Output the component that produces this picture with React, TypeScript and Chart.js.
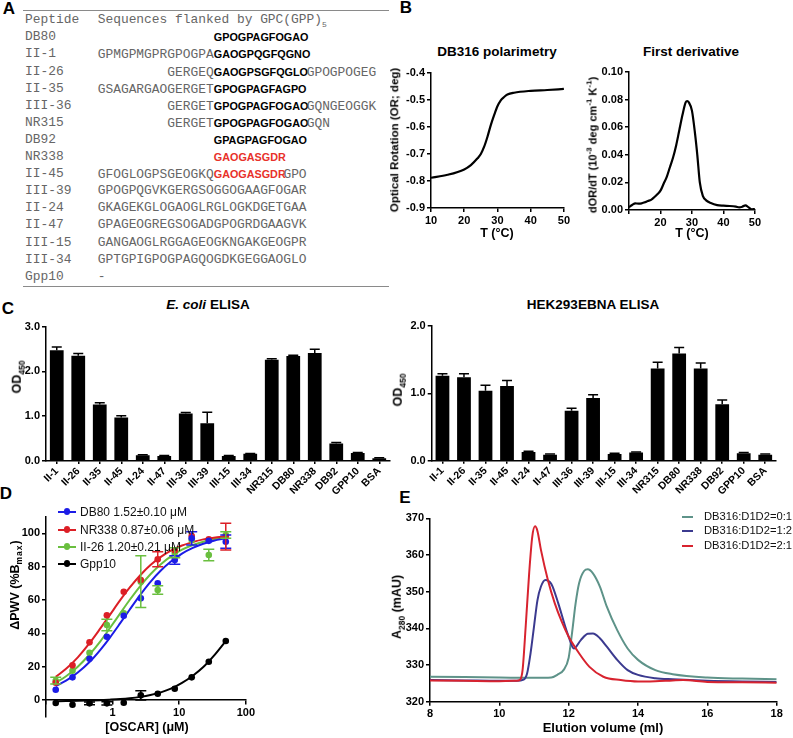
import React, { useEffect, useRef } from 'react';
import { Chart, registerables } from 'chart.js';
Chart.register(...registerables);

const SANS = '"Liberation Sans", Arial, Helvetica, sans-serif';
const MONO = '"Liberation Mono", "Courier New", monospace';

// ---------- Panel A (table) ----------
const peptideNames = ['DB80', 'II-1', 'II-26', 'II-35', 'III-36', 'NR315', 'DB92', 'NR338', 'II-45', 'III-39', 'II-24', 'II-47', 'III-15', 'III-34', 'Gpp10'];
const seqPrefix = ['', 'GPMGPMGPRGPOGPA', 'GERGEQ', 'GSAGARGAOGERGET', 'GERGET', 'GERGET', '', '', 'GFOGLOGPSGEOGKQ', 'GPOGPQGVKGERGSOGGOGAAGFOGAR', 'GKAGEKGLOGAOGLRGLOGKDGETGAA', 'GPAGEOGREGSOGADGPOGRDGAAGVK', 'GANGAOGLRGGAGEOGKNGAKGEOGPR', 'GPTGPIGPOGPAGQOGDKGEGGAOGLO', '-'];
const seqCore = ['GPOGPAGFOGAO', 'GAOGPQGFQGNO', 'GAOGPSGFQGLO', 'GPOGPAGFAGPO', 'GPOGPAGFOGAO', 'GPOGPAGFOGAO', 'GPAGPAGFOGAO', 'GAOGASGDR', 'GAOGASGDR', '', '', '', '', '', ''];
const seqSuffix = ['', '', 'GPOGPOGEG', '', 'GQNGEOGGK', 'GQN', '', '', 'GPO', '', '', '', '', '', ''];
const coreRed = [false, false, false, false, false, false, false, true, true, false, false, false, false, false, false];

// ---------- Panel B ----------
const polT = [10, 15, 20, 22, 24, 25, 26, 27, 28, 29, 30, 31, 32, 33, 35, 40, 45, 50];
const polOR = [-0.788, -0.777, -0.757, -0.741, -0.716, -0.7, -0.673, -0.636, -0.593, -0.556, -0.523, -0.501, -0.489, -0.48, -0.473, -0.466, -0.463, -0.459];
const derT = [10, 11, 12, 13, 14, 15, 16, 17, 18, 19, 20, 21, 22, 23, 24, 25, 26, 27, 28, 28.5, 29, 30, 31, 31.7, 32.5, 33.5, 34.5, 36, 38, 40, 42, 44, 45, 46, 47, 48, 49, 50];
const derV = [0.002, 0.0036, 0.0048, 0.0046, 0.0048, 0.0056, 0.0065, 0.0073, 0.0092, 0.0114, 0.014, 0.019, 0.024, 0.031, 0.038, 0.047, 0.058, 0.069, 0.078, 0.079, 0.078, 0.072, 0.055, 0.04, 0.02, 0.01, 0.007, 0.005, 0.0035, 0.0031, 0.0029, 0.0024, 0.0019, 0.0024, 0.0034, 0.0019, 0.0005, 0.0007];

// ---------- Panel C ----------
const elisaLabels = ['II-1', 'II-26', 'II-35', 'II-45', 'II-24', 'II-47', 'III-36', 'III-39', 'III-15', 'III-34', 'NR315', 'DB80', 'NR338', 'DB92', 'GPP10', 'BSA'];
const ecoliOD = [2.47, 2.35, 1.26, 0.97, 0.13, 0.11, 1.06, 0.84, 0.11, 0.16, 2.26, 2.34, 2.41, 0.39, 0.18, 0.06];
const ecoliErr = [0.07, 0.05, 0.04, 0.04, 0.01, 0.01, 0.02, 0.25, 0.01, 0.01, 0.02, 0.02, 0.08, 0.02, 0.01, 0.01];
const hekOD = [1.26, 1.24, 1.04, 1.11, 0.13, 0.09, 0.74, 0.93, 0.1, 0.12, 1.37, 1.59, 1.37, 0.84, 0.11, 0.09];
const hekErr = [0.03, 0.05, 0.08, 0.08, 0.01, 0.01, 0.04, 0.05, 0.01, 0.01, 0.09, 0.09, 0.08, 0.06, 0.01, 0.01];

// ---------- Panel D ----------
const oscarConc = [0.14, 0.25, 0.45, 0.82, 1.47, 2.65, 4.76, 8.57, 15.4, 27.8, 50];
const db80Pwv = [6.2, 13.6, 24.8, 38, 50.6, 61, 70, 84, 97, 95.5, 95];
const db80Err = [0, 0, 0, 0, 0, 0, 0, 2.5, 4, 0, 4];
const nr338Pwv = [10.4, 20.8, 34.6, 50.8, 65, 72, 84.4, 89.8, 98.4, 96.4, 98];
const nr338Err = [0, 0, 0, 0, 0, 0, 4.5, 0, 0, 0, 8];
const ii26Pwv = [11.6, 17.6, 28.4, 45, 52, 71, 66, 88.4, 96, 87, 99];
const ii26Err = [2, 0, 0, 3.5, 0, 15.5, 2.5, 3, 0, 3.5, 2];
const gpp10Pwv = [-1.8, -2.8, -2, -2, -1.6, 2.8, 3.8, 6.8, 13.6, 23, 35.4];
const gpp10Err = [0, 0, 0.8, 1, 0, 2.8, 0, 0, 0, 0, 0];
const fitConc = [0.14, 0.2, 0.3, 0.45, 0.65, 0.9, 1.3, 1.8, 2.6, 3.7, 5.3, 7.5, 11, 16, 23, 33, 50];
const db80Fit = [8.4, 11.6, 16.5, 22.8, 30.0, 37.2, 46.1, 54.2, 63.1, 70.9, 77.7, 83.1, 87.9, 91.3, 93.8, 95.6, 97.0];
const nr338Fit = [13.9, 18.7, 25.6, 34.1, 42.8, 50.8, 59.9, 67.4, 74.9, 81.0, 85.9, 89.6, 92.7, 94.8, 96.4, 97.4, 98.3];
const ii26Fit = [10.4, 14.3, 20.0, 27.3, 35.1, 42.9, 52.0, 60.0, 68.4, 75.5, 81.5, 86.2, 90.2, 93.0, 95.0, 96.5, 97.7];
const gpp10Fit = [-0.7, -0.6, -0.5, -0.3, -0.1, 0.2, 0.6, 1.1, 1.9, 3.0, 4.6, 6.8, 10.3, 14.6, 19.8, 26.5, 35.4];

// ---------- Panel E ----------
const e01X = [8, 9, 10, 11, 11.5, 11.7, 11.85, 12.0, 12.1, 12.2, 12.3, 12.45, 12.55, 12.7, 12.9, 13.1, 13.4, 13.7, 14, 14.5, 15, 16, 17, 18];
const e01Y = [326.8, 326.7, 326.6, 326.5, 326.6, 327.5, 328.6, 332, 339, 346.8, 352.3, 355.7, 356.1, 355, 351.4, 345.9, 339.5, 334.5, 331.4, 328.6, 327.5, 326.6, 326.3, 326.1];
const e12X = [8, 9, 10, 10.5, 10.7, 10.8, 10.9, 11.0, 11.1, 11.2, 11.33, 11.5, 11.7, 11.9, 12.0, 12.15, 12.35, 12.55, 12.7, 12.9, 13.1, 13.4, 13.7, 14, 14.5, 15, 16, 17, 18];
const e12Y = [325.9, 325.8, 325.7, 325.7, 326, 327.7, 333.2, 340.5, 347.7, 351.4, 353.2, 352.1, 346.8, 340.5, 337.7, 334.5, 336.8, 338.5, 338.6, 337.3, 335, 331.4, 328.6, 327.3, 326.4, 326.1, 325.7, 325.5, 325.4];
const e21X = [8, 9, 10, 10.5, 10.6, 10.67, 10.76, 10.86, 10.95, 11.03, 11.1, 11.2, 11.4, 11.6, 11.8, 12.0, 12.3, 12.6, 13.0, 13.5, 14, 14.5, 15, 15.3, 16, 17, 18];
const e21Y = [325.8, 325.7, 325.6, 325.7, 326, 328.6, 340.5, 355, 365, 367.8, 366.5, 361.4, 353.2, 346.8, 341.8, 337.7, 333.2, 329.5, 326.8, 325.9, 325.5, 325.6, 325.8, 325.9, 325.4, 325.3, 325.2];

// ---------- helpers ----------
const tickFont = { family: SANS, size: 11, weight: 'bold' as const };
const gridOpt = { drawOnChartArea: false, drawTicks: true, tickLength: 4, color: '#000', lineWidth: 1.5 };
const borderOpt = { display: true, color: '#000', width: 1.5 };

const errorBarPlugin = {
  id: 'errorBars',
  afterDatasetsDraw(chart: any) {
    const ctx = chart.ctx;
    const ys = chart.scales.y;
    chart.data.datasets.forEach((ds: any, di: number) => {
      if (!ds.errors) return;
      const meta = chart.getDatasetMeta(di);
      ctx.save();
      ctx.strokeStyle = ds.errColor || ds.borderColor || '#000';
      ctx.lineWidth = 1.5;
      meta.data.forEach((el: any, i: number) => {
        const e = ds.errors[i];
        if (!e) return;
        const raw = ds.data[i];
        const v = typeof raw === 'number' ? raw : raw.y;
        const x = el.x;
        const yc = ys.getPixelForValue(v);
        const yt = ys.getPixelForValue(v + e);
        const yb = ds.errUpOnly ? yc : ys.getPixelForValue(v - e);
        const h = ds.capHalf || 5;
        ctx.beginPath();
        ctx.moveTo(x, yb); ctx.lineTo(x, yt);
        ctx.moveTo(x - h, yt); ctx.lineTo(x + h, yt);
        if (!ds.errUpOnly) { ctx.moveTo(x - h, yb); ctx.lineTo(x + h, yb); }
        ctx.stroke();
      });
      ctx.restore();
    });
  },
};

const baseOpts = (pad: any) => ({
  responsive: false,
  animation: false as const,
  devicePixelRatio: 1,
  events: [] as any[],
  layout: { padding: pad },
  plugins: { legend: { display: false }, tooltip: { enabled: false }, title: { display: false } },
});

function Label(props: any) {
  const { x, y, size = 12, bold = true, rot = false, left = false, color = '#000', italic = false, family = SANS, children } = props;
  const tr = (left ? 'translate(0,-50%)' : 'translate(-50%,-50%)') + (rot ? ' rotate(-90deg)' : '');
  return (
    <div style={{ position: 'absolute', left: x, top: y, transform: tr, fontSize: size, fontWeight: bold ? 'bold' : 'normal', fontFamily: family, color, whiteSpace: 'nowrap', lineHeight: 1, fontStyle: italic ? 'italic' : 'normal' }}>
      {children}
    </div>
  );
}

function LegendItem(props: any) {
  const { x0, x1, xt, y, color, text, dot, size = 12 } = props;
  return (
    <>
      <div style={{ position: 'absolute', left: x0, top: y - 1, width: x1 - x0, height: 2, background: color }} />
      {dot ? <div style={{ position: 'absolute', left: (x0 + x1) / 2 - 3.3, top: y - 3.3, width: 6.6, height: 6.6, borderRadius: '50%', background: color }} /> : null}
      <Label x={xt} y={y} left size={size} bold={false} color="#111">{text}</Label>
    </>
  );
}

export default function App() {
  const bLRef = useRef<HTMLCanvasElement>(null);
  const bRRef = useRef<HTMLCanvasElement>(null);
  const cLRef = useRef<HTMLCanvasElement>(null);
  const cRRef = useRef<HTMLCanvasElement>(null);
  const dRef = useRef<HTMLCanvasElement>(null);
  const eRef = useRef<HTMLCanvasElement>(null);

  useEffect(() => {
    const charts: Chart[] = [];

    // B left
    charts.push(new Chart(bLRef.current as HTMLCanvasElement, {
      type: 'line',
      data: { datasets: [{ data: polT.map((t, i) => ({ x: t, y: polOR[i] })), borderColor: '#000', borderWidth: 2.2, pointRadius: 0, cubicInterpolationMode: 'monotone', fill: false } as any] },
      options: {
        ...baseOpts({ top: 13, right: 8, left: 0, bottom: 0 }),
        scales: {
          x: { type: 'linear', min: 10, max: 50, ticks: { stepSize: 10, color: '#000', font: tickFont, padding: 2 }, grid: gridOpt, border: borderOpt, afterFit: (s: any) => { s.height = 22; } },
          y: { type: 'linear', min: -0.9, max: -0.4, ticks: { stepSize: 0.1, color: '#000', font: tickFont, padding: 2, callback: (v: any) => Number(v).toFixed(1) }, grid: gridOpt, border: borderOpt, afterFit: (s: any) => { s.width = 31; } },
        },
      } as any,
    }));

    // B right
    charts.push(new Chart(bRRef.current as HTMLCanvasElement, {
      type: 'line',
      data: { datasets: [{ data: derT.map((t, i) => ({ x: t, y: derV[i] })), borderColor: '#000', borderWidth: 2.2, pointRadius: 0, cubicInterpolationMode: 'monotone', fill: false } as any] },
      options: {
        ...baseOpts({ top: 12, right: 8, left: 0, bottom: 0 }),
        scales: {
          x: { type: 'linear', min: 10, max: 50, ticks: { stepSize: 10, color: '#000', font: tickFont, padding: 2, callback: (v: any) => (Number(v) === 10 ? '' : String(v)) }, grid: gridOpt, border: borderOpt, afterFit: (s: any) => { s.height = 20; } },
          y: { type: 'linear', min: 0, max: 0.1, ticks: { stepSize: 0.02, color: '#000', font: tickFont, padding: 2, callback: (v: any) => Number(v).toFixed(2) }, grid: gridOpt, border: borderOpt, afterFit: (s: any) => { s.width = 33; } },
        },
      } as any,
    }));

    const barChart = (canvas: HTMLCanvasElement, vals: number[], errs: number[], ymax: number, yW: number, xH: number, padTop: number) =>
      new Chart(canvas, {
        type: 'bar',
        data: {
          labels: elisaLabels,
          datasets: [{ data: vals, errors: errs, errUpOnly: true, capHalf: 5, errColor: '#000', backgroundColor: '#000', borderWidth: 0, barPercentage: 0.64, categoryPercentage: 1.0 } as any],
        },
        options: {
          ...baseOpts({ top: padTop, right: 6, left: 0, bottom: 0 }),
          scales: {
            x: { type: 'category', offset: true, ticks: { color: '#000', font: { family: SANS, size: 10.5, weight: 'bold' }, minRotation: 45, maxRotation: 45, autoSkip: false, padding: 1 }, grid: { ...gridOpt, offset: false, tickLength: 3 }, border: borderOpt, afterFit: (s: any) => { s.height = xH; } },
            y: { type: 'linear', min: 0, max: ymax, ticks: { stepSize: 1, color: '#000', font: tickFont, padding: 2, callback: (v: any) => Number(v).toFixed(1) }, grid: gridOpt, border: borderOpt, afterFit: (s: any) => { s.width = yW; } },
          },
        } as any,
        plugins: [errorBarPlugin],
      });

    charts.push(barChart(cLRef.current as HTMLCanvasElement, ecoliOD, ecoliErr, 3, 26, 44, 11.5));
    charts.push(barChart(cRRef.current as HTMLCanvasElement, hekOD, hekErr, 2, 26.7, 44.3, 11));

    // D
    const ptDs = (vals: number[], errs: number[], color: string) => ({
      data: oscarConc.map((c, i) => ({ x: c, y: vals[i] })), errors: errs, capHalf: 5.5,
      backgroundColor: color, borderColor: color, pointRadius: 3.3, pointBorderWidth: 0, showLine: false,
    });
    const fitDs = (vals: number[], color: string) => ({
      data: fitConc.map((c, i) => ({ x: c, y: vals[i] })), borderColor: color, backgroundColor: color,
      borderWidth: 2, pointRadius: 0, showLine: true, cubicInterpolationMode: 'monotone', fill: false,
    });
    charts.push(new Chart(dRef.current as HTMLCanvasElement, {
      type: 'scatter',
      data: {
        datasets: [
          ptDs(db80Pwv, db80Err, '#1c1ce6'),
          ptDs(nr338Pwv, nr338Err, '#dc1f26'),
          ptDs(ii26Pwv, ii26Err, '#6abf3f'),
          ptDs(gpp10Pwv, gpp10Err, '#000000'),
          fitDs(db80Fit, '#1c1ce6'),
          fitDs(nr338Fit, '#dc1f26'),
          fitDs(ii26Fit, '#6abf3f'),
          fitDs(gpp10Fit, '#000000'),
        ] as any,
      },
      options: {
        ...baseOpts({ top: 11.7, right: 10.3, left: 0, bottom: 21.3 }),
        scales: {
          x: {
            type: 'logarithmic', min: 0.1, max: 100, position: { y: 0 },
            afterBuildTicks: (s: any) => { s.ticks = [0.1, 1, 10, 100].map((v) => ({ value: v })); },
            ticks: { color: '#000', font: tickFont, padding: 2, autoSkip: false, maxRotation: 0, callback: (v: any) => (Number(v) < 0.5 ? '' : String(Number(v))) },
            grid: gridOpt, border: borderOpt,
          },
          y: {
            type: 'linear', min: -10, max: 110,
            afterBuildTicks: (s: any) => { s.ticks = [0, 20, 40, 60, 80, 100].map((v) => ({ value: v })); },
            ticks: { color: '#000', font: tickFont, padding: 2 },
            grid: gridOpt, border: borderOpt, afterFit: (s: any) => { s.width = 26; },
          },
        },
      } as any,
      plugins: [errorBarPlugin],
    }));

    // E
    const eDs = (xs: number[], ys: number[], color: string) => ({
      data: xs.map((x, i) => ({ x, y: ys[i] })), borderColor: color, borderWidth: 2, pointRadius: 0,
      cubicInterpolationMode: 'monotone', fill: false,
    });
    charts.push(new Chart(eRef.current as HTMLCanvasElement, {
      type: 'line',
      data: { datasets: [eDs(e21X, e21Y, '#d8232f'), eDs(e12X, e12Y, '#3b3a8f'), eDs(e01X, e01Y, '#5e9389')] as any },
      options: {
        ...baseOpts({ top: 13.3, right: 8.3, left: 0, bottom: 0 }),
        scales: {
          x: { type: 'linear', min: 8, max: 18, ticks: { stepSize: 2, color: '#000', font: tickFont, padding: 2 }, grid: gridOpt, border: borderOpt, afterFit: (s: any) => { s.height = 23.3; } },
          y: { type: 'linear', min: 320, max: 370, ticks: { stepSize: 10, color: '#000', font: tickFont, padding: 2 }, grid: gridOpt, border: borderOpt, afterFit: (s: any) => { s.width = 27; } },
        },
      } as any,
    }));

    return () => charts.forEach((c) => c.destroy());
  }, []);

  const cv = (ref: any, left: number, top: number, w: number, h: number) => (
    <canvas ref={ref} width={w} height={h} style={{ position: 'absolute', left, top, width: w, height: h }} />
  );

  const grayTxt = '#666';
  const charW = 7.74;

  return (
    <div style={{ position: 'absolute', left: 0, top: 0, width: 793, height: 738, background: '#fff', overflow: 'hidden', fontFamily: SANS }}>
      {/* Panel letters */}
      <Label x={9} y={8} size={17}>A</Label>
      <Label x={406} y={7} size={17}>B</Label>
      <Label x={8} y={308} size={17}>C</Label>
      <Label x={6} y={493} size={17}>D</Label>
      <Label x={405} y={497} size={17}>E</Label>

      {/* Panel A table */}
      <div style={{ position: 'absolute', left: 23, top: 10, width: 366, height: 1, background: '#8a8a8a' }} />
      <div style={{ position: 'absolute', left: 23, top: 286, width: 366, height: 1, background: '#8a8a8a' }} />
      <div style={{ position: 'absolute', left: 25, top: 12, fontFamily: MONO, fontSize: 12.9, color: grayTxt, lineHeight: '16px', whiteSpace: 'pre' }}>Peptide</div>
      <div style={{ position: 'absolute', left: 97.7, top: 12, fontFamily: MONO, fontSize: 12.9, color: grayTxt, lineHeight: '16px', whiteSpace: 'pre' }}>
        Sequences flanked by GPC(GPP)<sub style={{ fontSize: 8, verticalAlign: 'sub', lineHeight: 0 }}>5</sub>
      </div>
      {peptideNames.map((n, i) => {
        const yc = 37.3 + i * 17.1;
        const indent = seqCore[i] ? 15 - seqPrefix[i].length : 0;
        return (
          <React.Fragment key={n}>
            <div style={{ position: 'absolute', left: 25, top: yc - 8, fontFamily: MONO, fontSize: 12.9, color: grayTxt, lineHeight: '16px', whiteSpace: 'pre' }}>{n}</div>
            <div style={{ position: 'absolute', left: 97.7 + indent * charW, top: yc - 8, fontFamily: MONO, fontSize: 12.9, color: grayTxt, lineHeight: '16px', whiteSpace: 'pre' }}>
              {seqPrefix[i]}
              {seqCore[i] ? (
                <span style={{ display: 'inline-block', width: seqCore[i].length * charW, fontFamily: SANS, fontWeight: 'bold', fontSize: 10.8, color: coreRed[i] ? '#e8312a' : '#000' }}>{seqCore[i]}</span>
              ) : null}
              {seqSuffix[i]}
            </div>
          </React.Fragment>
        );
      })}

      {/* Panel B */}
      {cv(bLRef, 400, 60, 172, 170)}
      {cv(bRRef, 596, 60, 167, 170)}
      <Label x={497} y={52} size={13.5}>DB316 polarimetry</Label>
      <Label x={691} y={52} size={13.5}>First derivative</Label>
      <Label x={395} y={140} size={11.5} rot>Optical Rotation (OR; deg)</Label>
      <Label x={593} y={145} size={11} rot>dOR/dT (10<sup style={{ fontSize: 8, lineHeight: 0 }}>-3</sup> deg cm<sup style={{ fontSize: 8, lineHeight: 0 }}>-1</sup> K<sup style={{ fontSize: 8, lineHeight: 0 }}>-1</sup>)</Label>
      <Label x={497} y={233} size={12.5}>T (°C)</Label>
      <Label x={692} y={233} size={12.5}>T (°C)</Label>

      {/* Panel C */}
      {cv(cLRef, 20, 315, 376, 190)}
      {cv(cRRef, 405, 315, 377, 190)}
      <Label x={208} y={305} size={13.5}><i>E. coli</i> ELISA</Label>
      <Label x={593} y={305} size={13.5}>HEK293EBNA ELISA</Label>
      <Label x={17} y={377} size={12.5} rot>OD<sub style={{ fontSize: 8.5, lineHeight: 0 }}>450</sub></Label>
      <Label x={398} y={390} size={12.5} rot>OD<sub style={{ fontSize: 8.5, lineHeight: 0 }}>450</sub></Label>

      {/* Panel D */}
      {cv(dRef, 20, 505, 237, 233)}
      <Label x={15} y={585} size={12.5} rot>ΔPWV (%B<sub style={{ fontSize: 8.5, lineHeight: 0, letterSpacing: 1 }}>max</sub>)</Label>
      <Label x={147} y={727} size={12.5}>[OSCAR] (μM)</Label>
      <LegendItem x0={58} x1={76} xt={80} y={511.7} color="#1c1ce6" dot text="DB80 1.52±0.10 μM" />
      <LegendItem x0={58} x1={76} xt={80} y={529.5} color="#dc1f26" dot text="NR338 0.87±0.06 μM" />
      <LegendItem x0={58} x1={76} xt={80} y={546.7} color="#6abf3f" dot text="II-26 1.20±0.21 μM" />
      <LegendItem x0={58} x1={76} xt={80} y={563.5} color="#000" dot text="Gpp10" />

      {/* Panel E */}
      {cv(eRef, 403, 505, 382, 220)}
      <Label x={397} y={607} size={12.5} rot>A<sub style={{ fontSize: 8.5, lineHeight: 0 }}>280</sub> (mAU)</Label>
      <Label x={603} y={727} size={13}>Elution volume (ml)</Label>
      <LegendItem x0={682} x1={693} xt={704} y={517.3} color="#5e9389" size={11.2} text="DB316:D1D2=0:1" />
      <LegendItem x0={682} x1={693} xt={704} y={531} color="#3b3a8f" size={11.2} text="DB316:D1D2=1:2" />
      <LegendItem x0={682} x1={693} xt={704} y={546} color="#d8232f" size={11.2} text="DB316:D1D2=2:1" />
    </div>
  );
}
